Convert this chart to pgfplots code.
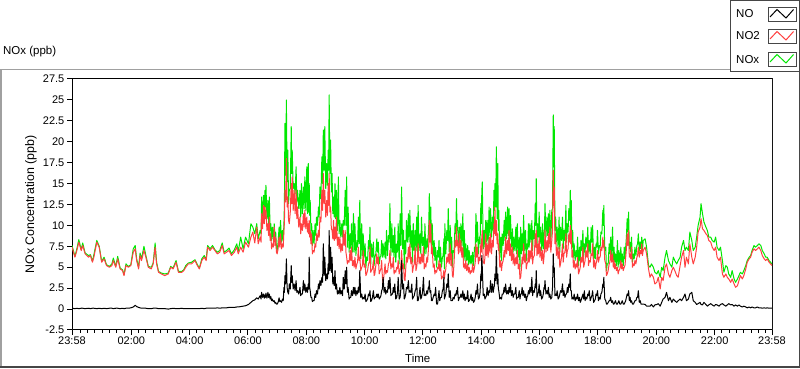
\documentclass[border=0pt]{standalone}
\usepackage{fontspec}
\setmainfont{Liberation Sans}
\usepackage{pgfplots}
\pgfplotsset{compat=1.18}
\usepackage{pgfplotstable}
\definecolor{nored}{RGB}{255,64,64}
\definecolor{nogreen}{RGB}{0,232,0}
\definecolor{framegray}{RGB}{160,160,160}
\definecolor{darkframe}{RGB}{70,70,70}

\pgfplotstableread{
m NO NO2 NOx
0 0.10 7.4 7.6
6 0.05 6.2 6.3
10 0.10 7.0 7.2
14 0.05 8.0 8.3
19 0.10 7.0 7.1
22 0.10 7.6 7.9
27 0.05 6.6 6.7
34 0.10 6.2 6.4
38 0.05 6.4 6.5
42 0.10 5.6 5.7
45 0.10 6.2 6.5
51 0.05 8.0 8.2
56 0.10 7.4 7.5
61 0.05 5.6 5.7
66 0.10 6.0 6.2
71 0.05 5.2 5.3
77 0.10 5.0 5.1
82 0.10 5.2 5.4
85 0.05 5.8 6.1
90 0.10 5.0 5.1
94 0.10 6.0 6.3
99 0.05 4.8 4.9
104 0.10 4.6 4.7
107 0.05 4.0 4.1
111 0.10 5.2 5.4
116 0.10 5.0 5.1
121 0.15 5.2 5.3
126 0.25 6.8 7.2
130 0.45 7.2 7.6
133 0.30 5.8 6.0
137 0.20 4.8 5.0
140 0.15 6.4 6.7
143 0.10 5.8 6.0
148 0.10 7.0 7.5
152 0.10 6.2 6.4
157 0.05 5.0 5.1
163 0.05 4.8 5.0
167 0.10 5.4 5.5
171 0.10 7.4 7.9
174 0.10 5.4 5.6
178 0.05 4.4 4.5
184 0.05 4.2 4.3
191 0.05 4.0 4.2
198 0.00 4.2 4.3
203 0.05 5.0 5.1
208 0.10 4.8 4.9
214 0.05 5.6 5.8
219 0.05 4.4 4.5
226 0.10 4.4 4.5
230 0.05 4.6 4.7
234 0.05 5.0 5.2
239 0.05 5.4 5.5
246 0.05 5.4 5.6
253 0.05 5.8 5.9
258 0.05 5.2 5.3
262 0.05 4.8 4.9
267 0.10 5.8 6.0
272 0.05 6.2 6.4
276 0.10 5.8 5.9
279 0.10 7.4 7.6
284 0.10 7.0 7.2
289 0.10 7.4 7.6
294 0.10 7.0 7.1
299 0.15 6.6 6.8
304 0.10 6.8 7.0
309 0.15 7.6 7.9
313 0.15 6.6 6.8
318 0.15 6.8 7.0
323 0.20 7.0 7.3
328 0.20 6.4 6.6
334 0.20 6.8 7.1
339 0.25 7.4 7.8
342 0.25 6.6 6.9
347 0.30 7.4 8.6
352 0.35 6.8 7.2
357 0.40 8.0 8.6
363 0.55 7.4 7.8
368 0.80 8.6 10.2
372 1.00 9.2 9.8
376 1.10 7.9 9.0
380 1.35 9.8 10.2
383 1.20 7.8 8.4
387 1.60 8.6 9.4
389 1.2 8.0 9.0
390 2.00 11.4 13.4
392 1.4 9.6 11.0
394 1.80 12.4 13.6
395.5 1.3 10.2 11.6
397 1.70 12.2 14.2
398 1.4 10.8 12.2
399 1.90 11.8 14.8
401 1.3 9.4 10.8
403 2.00 10.2 13.0
404.5 1.4 8.8 10.2
406 1.80 11.0 13.4
407.5 1.2 8.2 9.4
409 1.50 9.0 10.2
410.5 1.0 7.2 8.2
412 1.20 7.8 9.8
414 0.9 7.4 8.4
416 1.00 9.8 10.2
417.5 0.7 7.6 8.4
419 0.80 8.6 9.2
420.5 0.6 6.8 7.4
422 0.60 6.6 7.0
424 0.8 7.2 8.0
426 1.35 8.6 9.8
427.5 0.9 7.4 8.4
429 1.00 9.0 10.6
431 0.8 7.2 8.0
433 1.20 7.8 9.4
434.5 1.0 7.4 8.2
436 2.60 9.4 10.2
437 2.0 10.4 12.6
438 4.00 14.2 22.2
439.5 3.0 12.8 16.0
441 6.00 18.0 25.0
442.5 2.6 12.2 15.2
444 2.00 13.4 19.0
445.5 1.8 10.6 12.6
447 3.00 10.2 14.2
449 2.4 11.6 14.4
451 5.20 15.0 21.8
452 3.2 12.6 16.2
453 4.00 15.8 19.0
455 2.4 11.8 14.4
457 3.00 14.2 15.0
459 2.2 11.4 13.8
461 3.40 14.2 17.0
462.5 2.0 10.8 12.8
464 2.20 12.2 14.2
466.5 1.8 9.8 12.0
469 2.6 11.0 14.2
470.5 1.6 9.0 11.0
472 1.8 10.2 15.0
474 1.8 9.4 11.4
476 3.4 11.4 14.6
477.5 2.2 9.8 12.0
479 3.0 11.8 15.8
481 2.0 9.6 11.8
483 2.6 11.0 17.0
484.5 2.0 9.2 11.4
486 3.0 10.2 17.4
487 2.4 9.0 11.6
488 6.2 10.6 15.0
489 2.6 8.6 11.2
490 2.2 9.4 13.0
491.5 1.4 7.8 9.4
493 1.4 9.0 10.2
494.5 0.9 6.6 7.6
496 1.0 7.0 9.4
498 1.0 6.8 7.8
500 1.8 7.8 10.2
501.5 1.4 7.4 8.8
503 2.2 9.0 11.0
505 1.8 8.2 10.0
507 3.0 9.4 12.2
508.5 2.4 8.6 11.0
510 3.4 11.0 14.6
512 2.8 10.4 13.2
514 3.8 14.2 18.2
515.5 3.2 11.8 15.0
517 7.8 16.2 21.4
518.5 4.0 12.6 16.6
520 6.2 14.2 21.8
522 3.4 11.0 14.4
524 4.2 13.0 17.4
525.5 3.6 11.2 14.8
527 5.4 15.0 19.0
528 4.2 12.4 16.6
529 9.4 16.2 25.6
530.5 4.6 11.6 16.2
532 7.4 12.2 20.2
533.5 4.4 9.6 14.0
535 6.2 9.4 16.2
536.5 3.0 8.4 11.4
538 3.8 10.6 13.4
539.5 2.8 8.2 11.0
541 4.6 9.8 15.0
542.5 2.4 8.4 10.8
544 3.0 11.0 14.2
546 1.8 7.6 9.4
548 2.2 8.6 15.8
549.5 1.8 7.2 9.0
551 2.6 8.6 10.6
553 1.8 6.8 8.6
555 2.2 7.8 10.2
556.5 1.6 7.0 8.6
558 3.8 9.4 10.6
560 2.4 7.6 10.0
562 4.6 9.4 14.2
563.5 3.0 6.8 10.0
565 5.0 6.2 15.8
566.5 2.0 5.4 7.4
568 2.6 5.8 12.2
570 1.2 5.6 6.8
572 1.4 7.0 9.0
573.5 1.4 5.8 7.2
575 2.2 7.4 10.2
577 1.6 5.2 6.8
579 2.6 5.8 11.4
580.5 1.8 5.0 6.8
582 2.6 6.2 10.2
584 1.6 4.8 6.4
586 2.2 5.4 8.2
587.5 1.8 5.6 7.4
589 2.6 7.4 11.0
590.5 2.0 5.8 7.8
592 4.6 6.2 13.0
594 1.4 4.6 6.0
596 1.8 5.0 10.2
597.5 1.2 5.2 6.4
599 1.4 7.0 9.0
601 1.2 5.0 6.2
603 1.8 5.4 7.8
604.5 0.9 4.0 4.9
606 1.0 4.2 6.2
608 1.2 4.6 5.8
610 1.8 5.4 8.2
611.5 1.6 5.6 7.2
613 2.2 7.4 9.8
614.5 0.9 4.4 5.3
616 1.0 4.6 7.8
618 1.4 4.8 6.2
620 2.2 5.8 8.0
621.5 1.2 4.0 5.2
623 1.4 4.2 6.2
625 1.4 5.2 6.6
627 1.8 6.6 8.4
628.5 1.4 5.4 6.8
630 1.8 6.2 8.0
632 1.2 4.2 5.4
634 1.4 4.6 6.2
635.5 1.6 4.8 6.4
637 2.2 5.8 8.2
638.5 2.4 3.8 6.2
640 3.8 3.0 7.8
642 2.0 4.2 6.2
644 2.6 5.4 8.0
645.5 1.8 4.2 6.0
647 2.2 4.6 9.4
649 2.0 4.4 6.4
651 3.4 5.4 8.8
652.5 2.4 5.6 8.0
654 3.8 7.0 12.6
656 1.6 4.8 6.4
658 1.8 5.4 10.2
659.5 1.8 5.0 6.8
661 2.6 6.2 8.8
662.5 2.0 4.2 6.2
664 3.0 4.6 9.8
666 1.2 4.4 5.6
668 1.4 5.0 7.8
669.5 2.0 4.8 6.8
671 3.8 5.8 10.2
673 1.2 4.2 5.4
675 1.4 4.6 11.4
676.5 2.4 5.2 7.6
678 5.8 7.0 14.6
680 2.4 4.8 7.2
682 3.0 5.4 9.4
683.5 1.2 3.6 4.8
685 1.4 3.4 8.2
686.5 1.8 4.8 6.6
688 2.6 6.2 10.6
690 2.4 5.6 8.0
692 3.4 7.4 11.4
693.5 2.0 6.0 8.0
695 2.2 7.8 11.8
697 2.0 5.4 7.4
699 3.0 6.2 9.4
700.5 1.2 4.4 5.6
702 1.4 5.0 10.2
704 1.6 5.4 7.0
706 2.2 7.4 9.4
707.5 2.4 4.6 7.0
709 3.8 5.0 11.0
710.5 1.0 5.8 6.8
712 1.0 7.8 12.4
714 1.6 5.4 7.0
716 2.6 6.2 9.0
717.5 1.2 5.4 6.6
719 1.4 6.6 11.0
721 2.0 5.6 7.6
723 3.8 7.4 8.6
724.5 1.6 4.8 6.4
726 1.8 5.4 10.2
728 1.6 5.0 6.6
730 2.2 6.2 8.4
731.5 1.8 5.6 7.4
733 2.6 7.0 9.0
734 2.4 7.8 10.2
735 3.4 10.6 13.8
736.5 2.0 8.0 10.0
738 2.2 10.2 12.2
739.5 1.0 6.6 7.6
741 1.0 7.4 10.2
743 1.4 5.0 6.4
745 1.8 5.4 8.2
746.5 1.6 4.2 5.8
748 2.6 4.6 7.4
750 0.6 4.4 5.0
752 0.6 5.0 7.0
753.5 1.4 4.8 6.2
755 2.2 5.8 8.2
756.5 1.0 4.6 5.6
758 1.4 5.4 7.4
760 1.4 3.6 5.0
762 2.2 3.8 6.2
763.5 2.4 4.0 6.4
765 3.8 4.6 8.4
766 1.2 3.6 4.8
767 1.4 4.2 10.2
769 1.8 4.8 6.6
771 3.0 6.2 9.4
772.5 2.6 5.6 8.2
774 4.2 6.6 12.0
776 1.4 5.4 6.8
778 2.2 7.8 10.0
779.5 1.0 5.2 6.2
781 1.0 6.6 8.6
782.5 1.0 4.0 5.0
784 1.4 3.8 7.0
786 1.2 5.6 6.8
788 1.8 8.2 10.2
789.5 1.6 7.4 9.0
791 2.2 9.8 13.2
792 1.8 7.6 9.4
793 2.6 8.2 10.6
795 1.0 6.6 7.6
797 1.4 9.0 9.8
798.5 1.4 6.8 8.2
800 1.8 8.2 10.2
802 1.4 6.2 7.6
804 2.2 7.4 11.4
805.5 1.2 5.0 6.2
807 1.8 5.4 9.4
808.5 1.0 4.8 5.8
810 1.4 5.8 7.8
812 1.2 4.6 5.8
814 2.2 5.4 7.6
815.5 0.9 4.4 5.3
817 1.0 5.0 7.0
819 1.2 4.2 5.4
821 1.8 4.6 6.4
822.5 1.0 4.4 5.4
824 1.4 5.4 6.8
826 0.8 4.4 5.2
828 1.0 5.0 7.4
829.5 1.4 5.6 7.0
831 2.2 7.8 11.4
832.5 1.8 6.2 8.0
834 3.0 7.4 10.4
836 1.2 5.4 6.6
838 1.4 6.2 8.6
839.5 2.0 5.8 7.8
841 4.2 7.8 12.6
842 3.4 6.8 10.2
843 6.4 8.6 14.0
844 5.0 9.4 15.2
846 1.6 5.6 7.2
848 1.8 5.4 9.4
849.5 1.2 6.2 7.4
851 1.4 9.0 10.6
852.5 1.6 6.4 8.0
854 2.6 7.8 10.6
856 1.6 6.2 7.8
858 2.2 8.6 12.2
859.5 2.0 6.8 8.8
861 3.4 9.0 12.0
863 2.0 6.6 8.6
865 3.0 8.2 11.0
866.5 2.0 7.4 9.4
868 2.6 10.2 14.2
869 2.8 9.0 11.8
870 4.2 12.2 15.0
871.5 3.4 8.8 12.2
873 7.0 10.6 19.4
874.5 3.0 7.8 10.8
876 4.2 9.0 17.4
877 2.4 7.0 9.4
878 2.2 7.8 11.8
880 1.2 5.0 6.2
882 1.4 5.8 8.6
883.5 1.2 4.6 5.8
885 1.8 5.4 9.0
887 1.8 5.8 7.6
889 2.6 7.0 10.6
890.5 2.0 6.2 8.2
892 3.0 8.6 11.6
894 1.8 6.6 8.4
896 2.2 8.2 12.2
897.5 1.8 7.0 8.8
899 2.6 9.4 12.0
900.5 2.0 6.4 8.4
902 3.0 7.8 11.2
904 1.6 5.8 7.4
906 2.2 7.4 9.6
907.5 1.4 5.4 6.8
909 1.8 6.6 8.6
911 1.8 5.2 7.0
913 2.6 6.2 9.8
914.5 1.2 5.4 6.6
916 1.4 7.0 10.2
918 1.4 4.8 6.2
920 2.2 5.4 8.6
921.5 1.2 3.6 4.8
923 1.8 3.8 9.8
924.5 1.8 4.8 6.6
926 2.6 6.2 9.0
927.5 1.6 5.4 7.0
929 2.2 7.8 11.2
931 1.4 5.6 7.0
933 1.8 6.6 9.4
934.5 1.0 4.8 5.8
936 1.4 5.4 7.8
937.5 1.6 5.6 7.2
939 2.2 7.0 10.2
940.5 1.8 5.6 7.4
942 2.6 7.0 10.2
944 2.0 6.0 8.0
946 3.8 8.2 10.6
947.5 1.6 5.4 7.0
949 2.2 6.2 9.4
951 2.0 6.4 8.4
953 3.0 9.0 12.6
954 2.6 7.4 10.0
955 4.6 9.4 15.6
956.5 1.4 6.4 7.8
958 1.8 7.8 10.2
959.5 2.0 6.6 8.6
961 3.0 8.6 11.6
962.5 1.6 6.2 7.8
964 2.2 7.4 9.8
966 1.2 5.8 7.0
968 1.4 7.0 10.2
969.5 1.8 5.4 7.2
971 2.6 6.2 8.8
972 2.4 7.2 9.6
973 3.4 9.4 12.6
975 1.8 6.8 8.6
977 2.2 8.2 11.0
978.5 1.8 7.0 8.8
980 2.6 9.0 11.4
981.5 1.4 7.4 8.8
983 1.8 9.8 11.8
985 1.2 6.8 8.0
987 1.4 8.2 11.8
988.5 2.6 9.4 12.0
990 6.6 16.6 23.2
991 4.4 12.4 17.0
992 5.0 14.6 21.8
993.5 1.6 7.8 9.4
995 1.8 9.0 11.0
996.5 1.6 6.4 8.0
998 2.2 7.4 9.8
1000 1.2 6.0 7.2
1002 1.4 7.4 11.0
1003.5 1.8 5.0 6.8
1005 2.2 5.4 9.8
1007 2.0 6.2 8.2
1009 3.0 7.8 11.0
1010.5 1.6 5.6 7.2
1012 2.2 6.6 9.4
1014 1.4 6.8 8.2
1016 1.8 9.0 12.4
1017.5 1.8 6.2 8.0
1019 2.6 7.0 10.2
1020.5 2.0 7.2 9.2
1022 3.0 9.0 12.0
1023.5 2.6 8.0 10.6
1025 4.2 10.0 14.2
1026 2.2 7.8 10.0
1027 2.2 9.4 13.0
1028.5 1.2 6.2 7.4
1030 1.4 7.0 9.4
1031.5 1.2 5.0 6.2
1033 1.8 5.8 7.8
1035 1.0 4.8 5.8
1037 1.4 5.4 7.0
1038.5 1.2 5.0 6.2
1040 1.8 6.2 8.6
1042 1.0 4.2 5.2
1044 1.4 4.6 7.4
1045.5 0.8 5.0 5.8
1047 1.0 6.2 8.2
1049 1.4 5.6 7.0
1051 1.8 7.4 9.4
1052.5 1.2 5.0 6.2
1054 2.2 5.4 7.8
1055.5 1.0 5.8 6.8
1057 1.4 7.0 8.6
1059 1.2 6.2 7.4
1061 1.8 7.8 9.8
1062.5 1.6 5.2 6.8
1064 2.2 5.8 8.2
1066 1.0 5.6 6.6
1068 1.4 6.6 9.8
1069.5 1.6 6.4 8.0
1071 2.2 7.8 10.0
1073 0.8 5.0 5.8
1075 1.0 5.8 7.4
1076.5 1.2 4.8 6.0
1078 1.8 5.4 7.8
1079.5 1.6 5.8 7.4
1081 2.2 7.0 9.4
1083 1.0 5.6 6.6
1085 1.4 6.2 7.6
1086.5 1.2 6.2 7.4
1088 1.8 7.4 9.2
1090 2.0 7.0 9.0
1092 3.0 8.6 11.8
1093 2.6 7.4 10.0
1094 3.8 8.2 12.4
1096 1.2 5.8 7.0
1098 1.0 5.4 7.4
1099.5 0.6 4.0 4.6
1101 0.6 4.2 5.4
1103 0.8 4.6 5.4
1105 1.0 5.4 7.8
1106.5 1.0 5.6 6.6
1108 1.4 7.0 8.6
1110 0.8 5.6 6.4
1112 1.0 6.6 9.8
1113.5 0.6 5.0 5.6
1115 0.6 5.8 7.4
1116.5 0.8 4.8 5.6
1118 1.0 5.4 6.6
1120 0.6 4.6 5.2
1122 0.6 5.0 8.2
1123.5 0.8 4.2 5.0
1125 1.0 4.6 7.0
1127 0.6 4.8 5.4
1129 0.6 5.8 7.4
1130.5 0.8 4.8 5.6
1132 1.0 5.4 6.6
1134 0.6 4.6 5.2
1136 0.6 5.0 7.4
1137.5 0.8 5.2 6.0
1139 1.0 6.2 7.4
1140.5 1.4 7.2 8.6
1142 1.8 9.0 10.8
1143.5 1.6 7.6 9.2
1145 2.2 9.4 11.6
1146.5 1.0 6.2 7.2
1148 1.4 6.6 8.0
1149.5 0.8 6.0 6.8
1151 1.0 7.4 8.6
1153 0.6 5.0 5.6
1155 0.6 5.4 6.6
1156.5 0.8 5.2 6.0
1158 1.0 5.8 7.4
1160 1.0 5.4 6.4
1162 1.4 6.2 7.6
1163.5 1.4 6.4 7.8
1165 2.2 7.4 9.0
1167 0.8 6.2 7.0
1169 1.0 7.0 8.0
1170.5 0.6 6.6 7.2
1172 0.6 7.8 8.6
1173.5 0.6 6.4 7.0
1175 0.6 7.0 8.2
1179 0.55 7.4 8.4
1182 0.35 6.6 7.4
1186 0.35 4.8 5.2
1189 0.35 3.8 5.0
1192 0.55 4.2 5.4
1196 0.25 3.8 5.0
1199 0.50 3.0 4.4
1203 0.55 3.2 4.2
1206 0.65 3.8 4.6
1210 0.35 2.4 3.8
1213 0.80 3.8 5.0
1216 1.20 3.4 4.6
1220 1.40 5.0 6.2
1223 2.00 5.4 7.0
1227 1.00 4.2 5.8
1230 1.40 3.8 5.4
1234 0.80 4.6 5.0
1237 1.20 5.0 6.2
1240 1.00 4.6 5.8
1244 0.80 4.0 5.4
1247 1.00 3.8 5.8
1251 1.20 5.2 6.2
1254 1.00 6.2 7.4
1258 1.40 7.0 8.2
1261 1.80 5.0 7.0
1264 1.00 6.2 7.4
1268 1.20 5.4 7.0
1271 1.80 7.8 9.2
1275 2.00 6.2 8.2
1278 1.00 5.4 7.0
1282 0.80 6.2 7.4
1285 0.55 7.4 8.6
1288 0.65 9.2 10.0
1292 0.80 9.8 11.0
1294 0.55 10.8 12.6
1297 0.50 9.6 11.4
1300 0.80 9.4 10.4
1304 0.55 9.0 9.8
1307 0.35 8.8 9.4
1310 0.50 8.2 8.6
1314 0.65 8.0 8.6
1317 0.50 7.4 8.2
1321 0.35 7.0 8.0
1324 0.55 7.4 8.6
1327 0.50 6.2 7.4
1331 0.35 5.8 7.0
1334 0.55 6.2 7.4
1338 0.65 4.2 5.8
1341 0.50 3.8 4.4
1345 0.35 4.2 5.2
1348 0.50 3.8 5.0
1351 0.65 3.6 4.2
1355 0.50 3.2 3.8
1358 0.55 3.6 4.6
1362 0.35 3.0 3.6
1365 0.50 2.6 3.2
1369 0.35 2.8 3.6
1372 0.50 3.4 4.0
1375 0.35 4.0 4.4
1379 0.25 3.6 4.2
1382 0.35 4.0 4.6
1386 0.25 4.8 5.2
1389 0.15 5.6 5.8
1393 0.25 6.0 6.2
1396 0.15 6.2 6.4
1399 0.25 6.8 7.0
1403 0.15 7.2 7.6
1406 0.15 7.0 7.4
1410 0.25 7.2 7.6
1413 0.15 7.4 7.8
1417 0.15 7.0 7.6
1420 0.10 6.4 7.0
1424 0.15 6.0 6.6
1427 0.10 5.8 6.2
1430 0.15 6.0 6.2
1434 0.10 5.6 5.8
1437 0.10 5.4 5.6
1440 0.10 5.2 5.4
}\data

\begin{document}
\fontsize{11.5}{13}\selectfont
\begin{tikzpicture}[x=1pt,y=1pt]
\begin{axis}[
  at={(72pt,39pt)}, anchor=south west,
  scale only axis, width=700pt, height=251pt,
  xmin=0, xmax=1440, ymin=-2.5, ymax=27.5,
  axis line style={black, line width=1pt},
  tick pos=left, tick align=outside,
  major tick length=5pt, minor tick length=3pt,
  every tick/.style={black, line width=1pt},
  xtick={0,122,242,362,482,602,722,842,962,1082,1202,1322,1440},
  xticklabels={23:58,02:00,04:00,06:00,08:00,10:00,12:00,14:00,16:00,18:00,20:00,22:00,23:58},
  minor xtick={17,32,...,1427},
  ytick={-2.5,0,2.5,5,7.5,10,12.5,15,17.5,20,22.5,25,27.5},
  yticklabels={-2.5,0,2.5,5,7.5,10,12.5,15,17.5,20,22.5,25,27.5},
  /pgf/number format/assume math mode=true,
  tick label style={font=\fontsize{11}{13}\selectfont, text=black},
  xticklabel style={inner sep=2pt},
  yticklabel style={inner sep=2.5pt},
  xlabel={Time},
  xlabel style={at={(axis description cs:0.494,-0.1116)}, anchor=center, font=\fontsize{11.5}{13}\selectfont},
  ylabel={NOx Concentration (ppb)},
  ylabel style={at={(axis description cs:-0.0586,0.5)}, anchor=center, rotate=0, font=\fontsize{12.4}{14}\selectfont},
  title={NOx (ppb)},
  title style={at={(axis description cs:-0.0986,1.0837)}, anchor=west, font=\fontsize{11.5}{13}\selectfont, inner sep=0pt},
  line join=round,
]
\addplot[nogreen, line width=1pt, line join=round] table[x=m,y=NOx]{\data};
\addplot[nored, line width=1pt, line join=round] table[x=m,y=NO2]{\data};
\addplot[black, line width=1pt, line join=round] table[x=m,y=NO]{\data};
\draw[framegray, line width=1pt] (rel axis cs:1,0) -- (rel axis cs:1,1);
\end{axis}
% outer frame
\draw[framegray, line width=1pt] (0,299.5) -- (730,299.5);
\draw[framegray, line width=1.5pt] (1,299.5) -- (1,1.5);
\draw[darkframe, line width=1.5pt] (0,1.8) -- (800,1.8);
\draw[darkframe, line width=1pt] (799.4,297) -- (799.4,1.5);
% legend
\draw[darkframe, line width=1pt, fill=white] (730.5,297) rectangle (799.4,368.5);
\node[anchor=west, inner sep=0pt] at (736,355) {NO};
\node[anchor=west, inner sep=0pt] at (736,333) {NO2};
\node[anchor=west, inner sep=0pt] at (736,309.5) {NOx};
\foreach \dy/\col in {0/black,22/nored,45/nogreen}{
  \draw[darkframe, line width=0.8pt, fill=white] (768,362-\dy) rectangle (796,348-\dy);
  \draw[\col, line width=1pt] (770,352-\dy) -- (777,359.5-\dy) -- (786,351-\dy) -- (793.5,359.5-\dy);
}
\pgfresetboundingbox
\path (0,0) rectangle (800,369);
\end{tikzpicture}
\end{document}
